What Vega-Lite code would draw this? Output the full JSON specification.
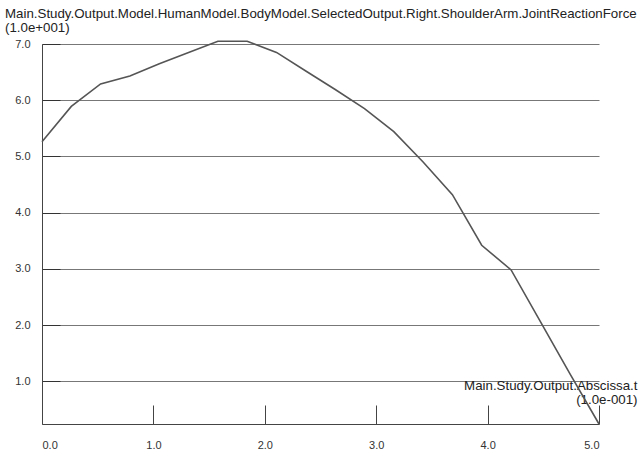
{
  "$schema": "https://vega.github.io/schema/vega-lite/v6.json",
  "autosize": {"type": "none"},
  "width": 557,
  "height": 380,
  "padding": {"left": 42, "top": 44, "right": 42, "bottom": 31},
  "background": "white",
  "config": {
    "view": {"stroke": null},
    "font": "Liberation Sans"
  },
  "title": {
    "text": ["Main.Study.Output.Model.HumanModel.BodyModel.SelectedOutput.Right.ShoulderArm.JointReactionForce", "(1.0e+001)"],
    "anchor": "start",
    "frame": "group",
    "dx": -37,
    "offset": 4,
    "fontSize": 13.3,
    "fontWeight": "normal",
    "color": "#222",
    "lineHeight": 14,
    "font": "Liberation Sans"
  },
  "data": {
    "values": [
      {"t": 0.0, "force": 5.26},
      {"t": 0.263, "force": 5.89},
      {"t": 0.526, "force": 6.29},
      {"t": 0.789, "force": 6.43},
      {"t": 1.053, "force": 6.65},
      {"t": 1.316, "force": 6.85},
      {"t": 1.579, "force": 7.05},
      {"t": 1.842, "force": 7.05},
      {"t": 2.105, "force": 6.85},
      {"t": 2.368, "force": 6.52},
      {"t": 2.632, "force": 6.19},
      {"t": 2.895, "force": 5.85},
      {"t": 3.158, "force": 5.44},
      {"t": 3.421, "force": 4.9},
      {"t": 3.684, "force": 4.32},
      {"t": 3.947, "force": 3.42},
      {"t": 4.211, "force": 2.98},
      {"t": 4.474, "force": 2.06},
      {"t": 4.737, "force": 1.14},
      {"t": 5.0, "force": 0.24}
    ]
  },
  "mark": {"type": "line", "color": "#555", "strokeWidth": 1.6, "clip": false},
  "encoding": {
    "x": {
      "field": "t",
      "type": "quantitative",
      "scale": {"domain": [0, 5], "nice": false, "zero": false},
      "axis": {
        "values": [0, 1, 2, 3, 4, 5],
        "format": ".1f",
        "grid": false,
        "domainColor": "#444",
        "tickColor": "#444",
        "tickSize": -19,
        "labelPadding": 34,
        "labelFontSize": 11,
        "labelColor": "#333",
        "labelFont": "Liberation Sans",
        "title": ["Main.Study.Output.Abscissa.t", "(1.0e-001)"],
        "titleX": 595,
        "titleY": -35,
        "titleAlign": "right",
        "titleAnchor": null,
        "titleBaseline": "alphabetic",
        "titleFontSize": 13.3,
        "titleFontWeight": "normal",
        "titleColor": "#222",
        "titleFont": "Liberation Sans",
        "titleLineHeight": 14
      }
    },
    "y": {
      "field": "force",
      "type": "quantitative",
      "scale": {"domain": [0.24, 7.0], "nice": false, "zero": false},
      "axis": {
        "values": [1, 2, 3, 4, 5, 6, 7],
        "format": ".1f",
        "grid": true,
        "gridColor": "#777",
        "gridWidth": 1,
        "domainColor": "#444",
        "tickColor": "#333",
        "tickSize": -18,
        "labelPadding": 30,
        "labelFontSize": 11,
        "labelColor": "#333",
        "labelFont": "Liberation Sans",
        "title": null
      }
    }
  }
}
